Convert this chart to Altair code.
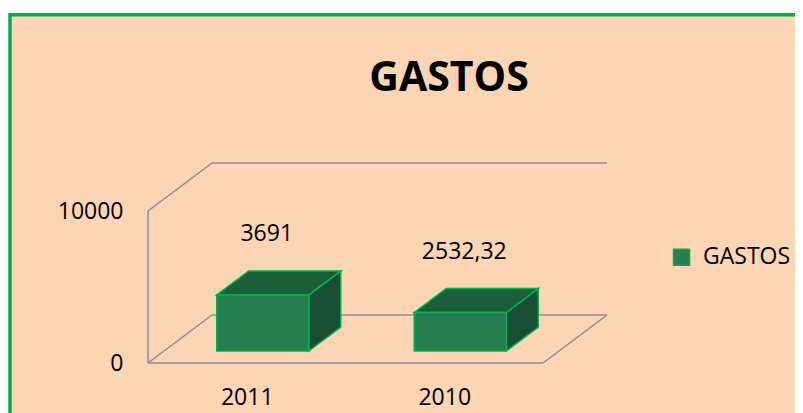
import altair as alt
import pandas as pd

# ---------------- data ----------------
CATEGORIES = ["2011", "2010"]
VALUES = [3691, 2532.32]
SERIES = "GASTOS"
TITLE = "GASTOS"
AXIS_TICKS = [0, 10000]

# ---------------- layout / style constants ----------------
FONT = "Open Sans"
PEACH = "#FCD5B5"
GREEN = "#00B050"
FRONT = "#267D50"
TOPC = "#1B5E3A"
SIDE = "#184E34"
GRID = "#8C8C8C"

VIEW_W, VIEW_H = 800, 402
ORIGIN_X, ORIGIN_Y = 138, 348.25      # front-left floor corner inside the view (px)
PX_PER_CAT = 197.5
PX_PER_VAL = 0.0152
DEPTH_PX_X, DEPTH_PX_Y = 64, 48

DX = DEPTH_PX_X / PX_PER_CAT          # depth shift in category units
DY = DEPTH_PX_Y / PX_PER_VAL          # depth shift in value units
X_MIN = -ORIGIN_X / PX_PER_CAT
X_MAX = X_MIN + VIEW_W / PX_PER_CAT
Y_MAX = ORIGIN_Y / PX_PER_VAL
Y_MIN = Y_MAX - VIEW_H / PX_PER_VAL

BAR_HALF = 0.233
BAR_D0, BAR_D1 = 0.25, 0.75
LABEL_D = 0.3125

n = len(CATEGORIES)
vmax = max(AXIS_TICKS)


def proj(c, v, d):
    return c + d * DX, v + d * DY


# frame (floor + left wall edges)
segs = [
    ((0, 0, 0), (0, vmax, 0)),
    ((0, vmax, 0), (0, vmax, 1)),
    ((0, vmax, 1), (n, vmax, 1)),
    ((0, 0, 0), (n, 0, 0)),
    ((0, 0, 0), (0, 0, 1)),
    ((0, 0, 1), (n, 0, 1)),
    ((n, 0, 0), (n, 0, 1)),
]
frame_rows = []
for p, q in segs:
    x1, y1 = proj(*p)
    x2, y2 = proj(*q)
    frame_rows.append({"x": x1, "y": y1, "x2": x2, "y2": y2})
frame_df = pd.DataFrame(frame_rows)

front_rows, top_rows, side_rows, label_rows = [], [], [], []
dd = (BAR_D1 - BAR_D0) * DX
for i, (c, v) in enumerate(zip(CATEGORIES, VALUES)):
    a, base0 = proj(i + 0.5 - BAR_HALF, 0, BAR_D0)
    b, _ = proj(i + 0.5 + BAR_HALF, 0, BAR_D0)
    t = v + BAR_D0 * DY
    t2 = v + BAR_D1 * DY
    base1 = BAR_D1 * DY
    front_rows.append({"cat": c, "series": SERIES, "x": a, "x2": b, "y": base0, "y2": t})
    top_rows += [
        {"cat": c, "x": a, "y": t, "y2": t},
        {"cat": c, "x": a + dd, "y": t, "y2": t2},
        {"cat": c, "x": b, "y": t, "y2": t2},
        {"cat": c, "x": b + dd, "y": t2, "y2": t2},
    ]
    side_rows += [
        {"cat": c, "x": b, "y": base0, "y2": t},
        {"cat": c, "x": b + dd, "y": base1, "y2": t2},
    ]
    lx, ly = proj(i + 0.5, v, LABEL_D)
    label_rows.append({"cat": c, "value": v, "x": lx, "y": ly})

front_df = pd.DataFrame(front_rows)
top_df = pd.DataFrame(top_rows)
side_df = pd.DataFrame(side_rows)
label_df = pd.DataFrame(label_rows)

cat_js = "[" + ",".join("'" + c + "'" for c in CATEGORIES) + "]"

XS = alt.Scale(domain=[X_MIN, X_MAX], nice=False, zero=False)
YS = alt.Scale(domain=[Y_MIN, Y_MAX], nice=False, zero=False)

X_AXIS = alt.Axis(
    values=[i + 0.5 for i in range(n)], labelExpr=cat_js + "[floor(datum.value)]",
    orient="bottom", offset=-(VIEW_H - ORIGIN_Y), domain=False, ticks=False, grid=False,
    title=None, labelFont=FONT, labelFontSize=23, labelColor="#000000", labelPadding=23,
    labelAngle=0, labelFlush=False, labelOverlap=False,
)
Y_AXIS = alt.Axis(
    values=AXIS_TICKS, format="d", orient="left", offset=-ORIGIN_X, domain=False,
    ticks=False, grid=False, title=None, labelFont=FONT, labelFontSize=23,
    labelColor="#000000", labelPadding=25, labelFlush=False, labelOverlap=False,
)


def xenc(field="x"):
    return alt.X(field + ":Q", scale=XS, axis=X_AXIS)


def yenc(field="y"):
    return alt.Y(field + ":Q", scale=YS, axis=Y_AXIS)


frame = alt.Chart(frame_df).mark_rule(color=GRID, strokeWidth=1.5).encode(
    x=xenc(), y=yenc(), x2="x2:Q", y2="y2:Q"
)

side = alt.Chart(side_df).mark_area(fill=SIDE, stroke=GREEN, strokeWidth=1.5, opacity=1).encode(
    x=xenc(), y=yenc(), y2="y2:Q", detail="cat:N"
)
topf = alt.Chart(top_df).mark_area(fill=TOPC, stroke=GREEN, strokeWidth=1.5, opacity=1).encode(
    x=xenc(), y=yenc(), y2="y2:Q", detail="cat:N"
)
front = alt.Chart(front_df).mark_rect(stroke=GREEN, strokeWidth=1.5, opacity=1).encode(
    x=xenc(), x2="x2:Q", y=yenc(), y2="y2:Q",
    color=alt.Color(
        "series:N",
        scale=alt.Scale(domain=[SERIES], range=[FRONT]),
        legend=alt.Legend(
            title=None, orient="none", legendX=660, legendY=231, padding=0,
            symbolType="square", symbolSize=256, symbolStrokeColor=GREEN,
            symbolStrokeWidth=1.5, symbolOpacity=1, labelFont=FONT, labelFontSize=23,
            labelColor="#000000", labelOffset=10,
        ),
    ),
)
labels = alt.Chart(label_df).mark_text(
    font=FONT, fontSize=23, color="#000000", dy=-57.5, baseline="middle", align="center"
).encode(x=xenc(), y=yenc(), text=alt.Text("value:Q", format=".2~f"))

chart = alt.layer(frame, side, topf, front, labels).properties(
    width=VIEW_W,
    height=VIEW_H,
    autosize="none",
    padding={"left": 2, "top": 6.75, "right": -15, "bottom": -3.75},
    title=alt.Title(
        TITLE, font=FONT, fontSize=41, fontWeight="bold", color="#000000",
        anchor="start", align="center", dx=439, dy=42.5, orient="top", baseline="middle",
        offset=-63, frame="group",
    ),
).configure(
    background="#FFFFFF",
    locale={"number": {"decimal": ",", "thousands": ".", "grouping": [3], "currency": ["", ""]}},
).configure_view(
    fill=PEACH, stroke=GREEN, strokeWidth=3.5
)

chart.save("out.html", embed_options={"renderer": "svg", "actions": False})
